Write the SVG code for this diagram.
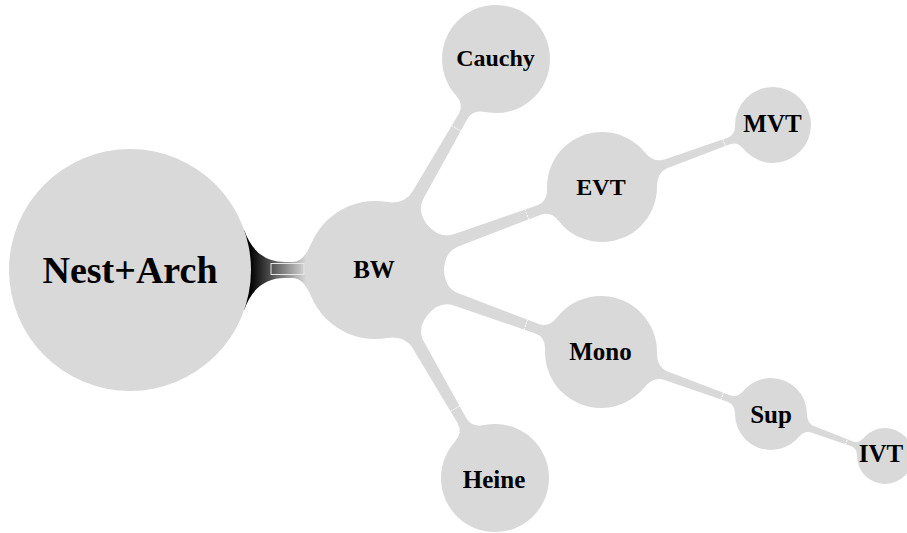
<svg xmlns="http://www.w3.org/2000/svg" width="907" height="533" viewBox="0 0 907 533">
<style>
.node{fill:#d9d9d9}
.link{fill:#d9d9d9}
.seam{stroke:#ffffff;stroke-width:1;stroke-dasharray:2 1;fill:none}
.lbl{font-family:"Liberation Serif","Times New Roman",serif;font-weight:bold;fill:#000;text-anchor:middle}
</style>
<defs>
<linearGradient id="rootGrad" gradientUnits="userSpaceOnUse" x1="250" y1="0" x2="306" y2="0">
<stop offset="0" stop-color="#000000"/>
<stop offset="1" stop-color="#d9d9d9"/>
</linearGradient>
</defs>
<rect width="907" height="533" fill="#ffffff"/>
<g id="connectors">
<g id="link-nest-bw">
<path fill="url(#rootGrad)" d="M244.2,310 Q255.4,278 285,278 L293,278 Q303.42,278 311.5,297 L311.5,243 Q303.42,262 293,262 L285,262 Q255.4,262 244.2,230 Z"/>
<rect x="271" y="263.5" width="33" height="11" fill="url(#rootGrad)" stroke="#e8e8e8" stroke-width="1"/>
</g>
<g id="link-bw-cauchy">
<path class="link" d="M428.34,226.24 Q416.13,211.34 423.92,197.76 L467.51,118.74 Q472.86,109.41 485.25,111.93 L455.75,95.01 Q464.18,104.43 458.83,113.76 L412.64,191.30 Q404.85,204.88 385.84,201.86 Z"/>
<line class="seam" x1="460.97" y1="131.14" x2="451.43" y2="125.66"/>
</g>
<g id="link-bw-evt">
<path class="link" d="M443.99,270.86 Q444.23,251.60 458.94,246.22 L540.80,214.71 Q550.93,211.00 558.71,220.93 L547.03,188.99 Q547.49,201.60 537.36,205.31 L454.48,234.02 Q439.77,239.40 427.17,224.84 Z"/>
<line class="seam" x1="528.76" y1="219.64" x2="524.98" y2="209.30"/>
</g>
<g id="link-bw-mono">
<path class="link" d="M427.27,315.03 Q439.84,300.44 454.56,305.78 L535.37,333.51 Q545.54,337.20 545.04,349.78 L556.64,317.82 Q548.96,327.80 538.79,324.11 L459.00,293.56 Q444.28,288.22 443.99,268.97 Z"/>
<line class="seam" x1="523.92" y1="329.88" x2="527.68" y2="319.54"/>
</g>
<g id="link-bw-heine">
<path class="link" d="M386.01,338.11 Q405.02,335.04 412.85,348.61 L457.69,423.33 Q463.06,432.65 454.65,442.10 L484.11,425.10 Q471.72,427.65 466.35,418.33 L424.11,342.11 Q416.28,328.54 428.45,313.63 Z"/>
<line class="seam" x1="450.26" y1="411.45" x2="459.78" y2="405.95"/>
</g>
<g id="link-evt-mvt">
<path class="link" d="M657.01,186.73 Q656.93,171.87 668.40,167.71 L730.00,144.31 Q737.51,141.59 743.52,148.98 L735.00,125.48 Q735.13,135.01 727.62,137.73 L665.34,159.25 Q653.87,163.41 644.39,151.95 Z"/>
<line class="seam" x1="725.47" y1="146.48" x2="722.75" y2="138.96"/>
</g>
<g id="link-mono-sup">
<path class="link" d="M644.31,387.49 Q653.71,376.02 665.22,380.21 L727.52,401.87 Q734.95,404.58 735.00,414.17 L743.56,390.69 Q737.35,398.00 729.92,395.29 L668.30,371.75 Q656.79,367.56 656.99,352.73 Z"/>
<line class="seam" x1="720.78" y1="399.94" x2="723.52" y2="392.42"/>
</g>
<g id="link-sup-ivt">
<path class="link" d="M798.36,437.40 Q804.59,430.10 812.02,432.84 L851.30,446.25 Q857.06,448.37 857.00,455.80 L863.56,437.98 Q858.78,443.67 853.02,441.55 L814.44,426.28 Q807.01,423.54 807.00,413.94 Z"/>
<line class="seam" x1="845.49" y1="444.65" x2="847.57" y2="439.01"/>
</g>
</g>
<g id="node-nest-arch"><circle class="node" cx="130" cy="270" r="121"/><text class="lbl" x="130" y="283" font-size="38">Nest+Arch</text></g>
<g id="node-bw"><circle class="node" cx="375" cy="270" r="69"/><text class="lbl" x="374" y="278" font-size="25">BW</text></g>
<g id="node-cauchy"><circle class="node" cx="496" cy="59" r="54"/><text class="lbl" x="495.5" y="66" font-size="24">Cauchy</text></g>
<g id="node-evt"><circle class="node" cx="602" cy="187" r="55"/><text class="lbl" x="601" y="195" font-size="24">EVT</text></g>
<g id="node-mvt"><circle class="node" cx="773" cy="125" r="38"/><text class="lbl" x="772.5" y="132" font-size="25">MVT</text></g>
<g id="node-mono"><circle class="node" cx="601" cy="352" r="56"/><text class="lbl" x="600.5" y="360" font-size="25">Mono</text></g>
<g id="node-sup"><circle class="node" cx="771" cy="414" r="36"/><text class="lbl" x="771" y="423" font-size="25">Sup</text></g>
<g id="node-ivt"><circle class="node" cx="885" cy="456" r="28"/><text class="lbl" x="881" y="462" font-size="25">IVT</text></g>
<g id="node-heine"><circle class="node" cx="495" cy="478" r="54"/><text class="lbl" x="494" y="488" font-size="25">Heine</text></g>
</svg>
